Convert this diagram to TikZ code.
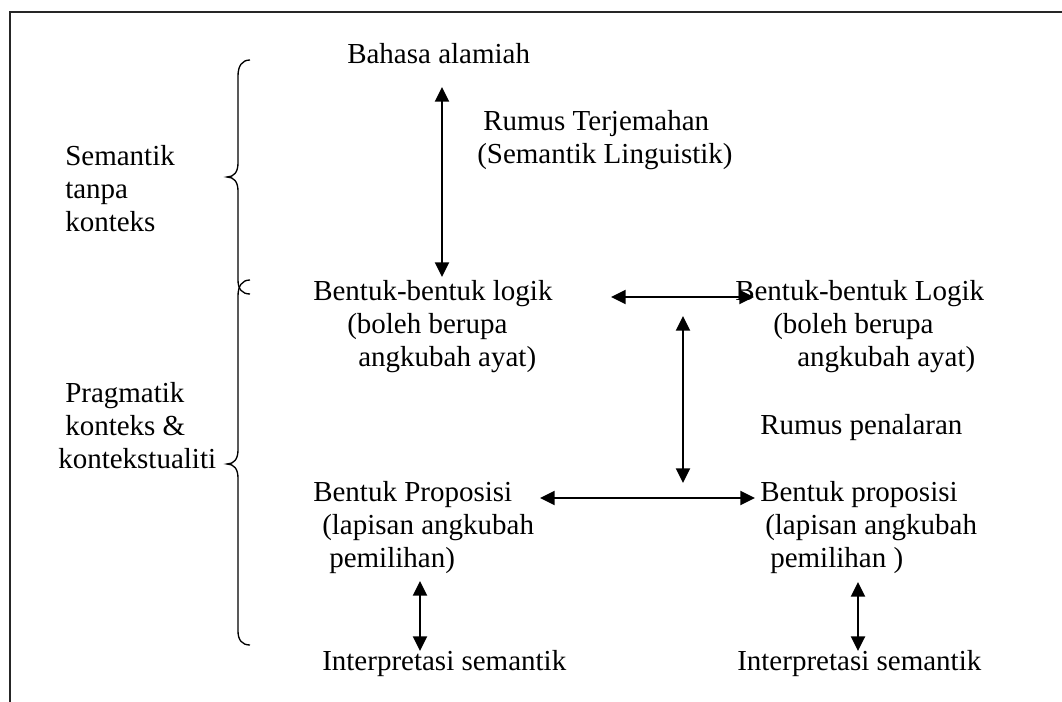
\documentclass[tikz,border=0pt]{standalone}
\usepackage{fontspec}
\setmainfont{Liberation Serif}
\usetikzlibrary{arrows.meta}
\newcommand{\txtblock}[1]{\begin{tabular}[t]{@{}l@{}}#1\end{tabular}}
\begin{document}
\begin{tikzpicture}[x=0.75pt,y=-0.75pt,
  every node/.style={font=\fontsize{21.75pt}{24.75pt}\selectfont, inner sep=0pt, anchor=base west},
  frame/.style={line width=1.5pt, draw=black!85},
  brace/.style={line width=1pt},
  dblarrow/.style={line width=1.7pt, {Triangle[length=11pt,width=10.5pt]}-{Triangle[length=11pt,width=10.5pt]}}]
\useasboundingbox (0,0) rectangle (1062,702);
\fill[white] (0,0) rectangle (1062,702);
% frame (top and left edges)
\draw[frame] (1062,12) -- (10,12) -- (10,702);

% braces
\draw[brace] (250,60) .. controls (242,60) and (238,66) .. (238,76) -- (238,163)
  .. controls (238,172) and (234,177) .. (227,177)
  .. controls (234,177) and (238,182) .. (238,191) -- (238,280)
  .. controls (238,289) and (242,294) .. (250,294);
\draw[brace] (250,280) .. controls (242,280) and (238,286) .. (238,296) -- (238,450)
  .. controls (238,459) and (234,464) .. (227,464)
  .. controls (234,464) and (238,469) .. (238,478) -- (238,631)
  .. controls (238,640) and (242,645) .. (250,645);

% left labels
\node (sem) at (65,166) {\txtblock{Semantik\\tanpa\\konteks}};
\node (prag) at (58,402) {\txtblock{\hspace*{5.25pt}Pragmatik\\\hspace*{5.25pt}konteks \&\\kontekstualiti}};

% main texts
\node (bahasa) at (347,64) {Bahasa alamiah};
\node (rumusT) at (477,131) {\txtblock{\hspace*{4.5pt}Rumus Terjemahan\\(Semantik Linguistik)}};
\node (logikL) at (313,300) {\txtblock{Bentuk-bentuk logik\\\hspace*{25.5pt}(boleh berupa\\\hspace*{33.75pt}angkubah ayat)}};
\node (logikR) at (735,300) {\txtblock{Bentuk-bentuk Logik\\\hspace*{28.5pt}(boleh berupa\\\hspace*{46.5pt}angkubah ayat)}};
\node (penalaran) at (760,434) {Rumus penalaran};
\node (propL) at (313,501) {\txtblock{Bentuk Proposisi\\\hspace*{6.75pt}(lapisan angkubah\\\hspace*{12pt}pemilihan)}};
\node (propR) at (760,501) {\txtblock{Bentuk proposisi\\\hspace*{3.75pt}(lapisan angkubah\\\hspace*{7.5pt}pemilihan )}};
\node (interpL) at (322,670) {Interpretasi semantik};
\node (interpR) at (737,670) {Interpretasi semantik};

% arrow end points
\coordinate (a1t) at (442,87);  \coordinate (a1b) at (442,277);
\coordinate (a2l) at (611,297); \coordinate (a2r) at (754,297);
\coordinate (a3t) at (683,316); \coordinate (a3b) at (683,483);
\coordinate (a4l) at (540,498); \coordinate (a4r) at (755,498);
\coordinate (a5t) at (420,581); \coordinate (a5b) at (420,651);
\coordinate (a6t) at (858,582); \coordinate (a6b) at (858,651);

\draw[dblarrow] (a1t) -- (a1b);
\draw[dblarrow] (a2l) -- (a2r);
\draw[dblarrow] (a3t) -- (a3b);
\draw[dblarrow] (a4l) -- (a4r);
\draw[dblarrow] (a5t) -- (a5b);
\draw[dblarrow] (a6t) -- (a6b);
\end{tikzpicture}
\end{document}
